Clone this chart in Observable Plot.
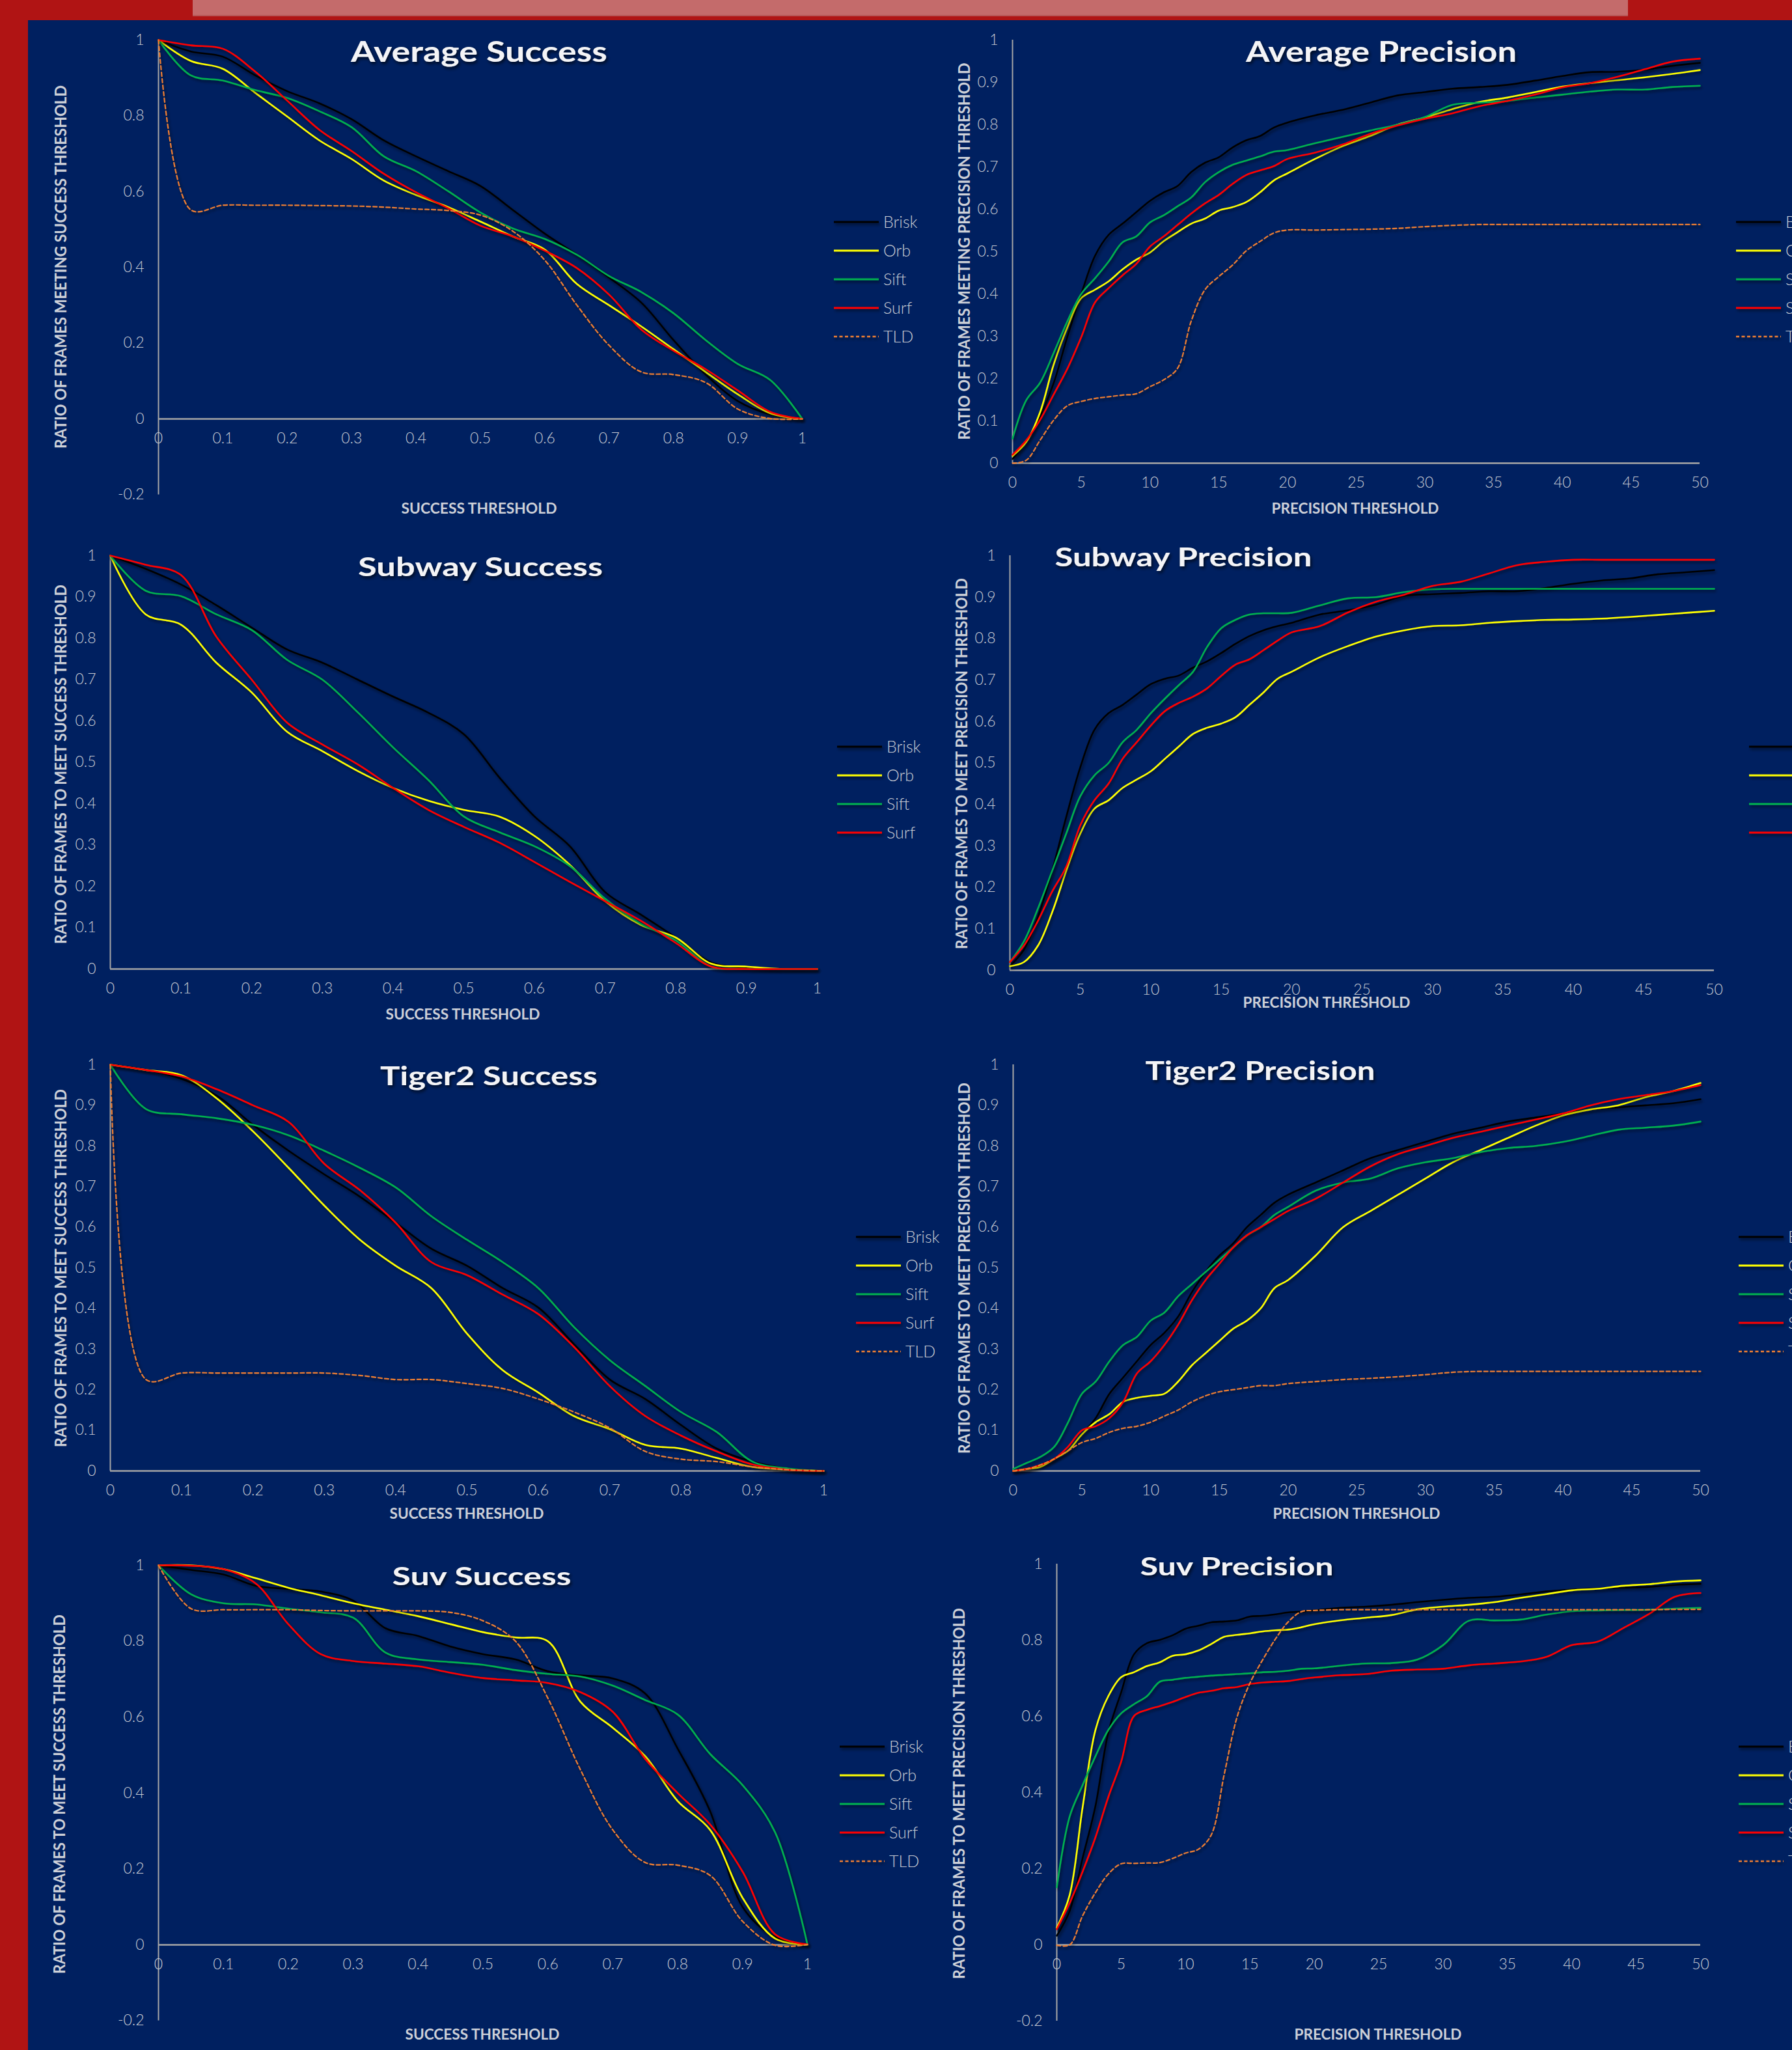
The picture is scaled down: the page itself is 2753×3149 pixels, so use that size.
<!DOCTYPE html>
<html>
<head>
<meta charset="utf-8">
<script src="https://cdn.jsdelivr.net/npm/d3@7"></script>
<script src="https://cdn.jsdelivr.net/npm/@observablehq/plot@0.6"></script>
<style>
html, body { margin: 0; padding: 0; background: #002060; }
#page { position: relative; width: 2753px; height: 3149px; overflow: hidden; background: #002060; }
.deco { position: absolute; }
#overlay { position: absolute; left: 0; top: 0; pointer-events: none; }
</style>
</head>
<body>
<div id="page">
  <div class="deco" style="left:0;top:0;width:2753px;height:31px;background:#B01414;"></div>
  <div class="deco" style="left:0;top:0;width:43px;height:3149px;background:#B01414;"></div>
  <div class="deco" style="left:296px;top:0;width:2205px;height:23px;background:#C46B6B;border-bottom:2px solid #B75656;"></div>
</div>
<script>
// ---------- data ----------
const successX = [0,0.05,0.1,0.15,0.2,0.25,0.3,0.35,0.4,0.45,0.5,0.55,0.6,0.65,0.7,0.75,0.8,0.85,0.9,0.95,1];
const precisionX = [0,1,2,3,4,5,6,7,8,9,10,11,12,13,14,15,16,17,18,19,20,22,24,26,28,30,32,34,36,38,40,42,44,46,48,50];
const successTicksX = [0,0.1,0.2,0.3,0.4,0.5,0.6,0.7,0.8,0.9,1];
const precisionTicksX = [0,5,10,15,20,25,30,35,40,45,50];
const ticksYTenths = [0,0.1,0.2,0.3,0.4,0.5,0.6,0.7,0.8,0.9,1];
const ticksYFifths = [-0.2,0,0.2,0.4,0.6,0.8,1];
const trackerNames = ["Brisk","Orb","Sift","Surf","TLD"];

// Average
const avgSuccessBrisk = [1,0.97,0.956,0.907,0.865,0.833,0.791,0.735,0.693,0.654,0.615,0.552,0.489,0.433,0.373,0.307,0.208,0.117,0.047,0.012,0];
const avgSuccessOrb   = [1,0.945,0.924,0.861,0.798,0.735,0.686,0.629,0.591,0.559,0.521,0.482,0.447,0.356,0.3,0.244,0.184,0.124,0.065,0.015,0];
const avgSuccessSift  = [1,0.907,0.893,0.868,0.847,0.812,0.77,0.693,0.654,0.601,0.545,0.503,0.475,0.433,0.377,0.335,0.279,0.208,0.145,0.103,0];
const avgSuccessSurf  = [1,0.986,0.977,0.917,0.84,0.763,0.707,0.647,0.598,0.556,0.51,0.482,0.444,0.398,0.328,0.236,0.18,0.131,0.075,0.019,0];
const avgSuccessTLD   = [1,0.552,0.564,0.564,0.564,0.563,0.562,0.559,0.554,0.55,0.538,0.496,0.419,0.3,0.194,0.124,0.117,0.096,0.026,0.001,0];

const avgPrecBrisk = [0.01,0.05,0.11,0.19,0.3,0.4,0.49,0.54,0.566,0.593,0.62,0.64,0.655,0.688,0.71,0.723,0.746,0.763,0.773,0.793,0.805,0.822,0.835,0.852,0.869,0.877,0.885,0.889,0.894,0.904,0.915,0.924,0.925,0.93,0.939,0.946];
const avgPrecOrb   = [0.017,0.05,0.12,0.234,0.322,0.39,0.41,0.43,0.458,0.481,0.498,0.525,0.546,0.566,0.578,0.597,0.605,0.617,0.64,0.668,0.685,0.719,0.749,0.773,0.8,0.817,0.837,0.854,0.864,0.877,0.89,0.898,0.905,0.912,0.92,0.929];
const avgPrecSift  = [0.058,0.149,0.19,0.261,0.336,0.4,0.437,0.477,0.522,0.536,0.569,0.586,0.607,0.628,0.664,0.688,0.705,0.715,0.725,0.736,0.74,0.756,0.771,0.786,0.8,0.818,0.847,0.852,0.856,0.864,0.871,0.878,0.883,0.883,0.889,0.892];
const avgPrecSurf  = [0.02,0.054,0.102,0.163,0.224,0.298,0.38,0.414,0.444,0.471,0.512,0.536,0.563,0.59,0.614,0.634,0.66,0.681,0.692,0.702,0.719,0.734,0.753,0.778,0.798,0.814,0.827,0.844,0.856,0.871,0.888,0.898,0.913,0.931,0.949,0.956];
const avgPrecTLD   = [0,0.007,0.054,0.102,0.136,0.146,0.153,0.157,0.161,0.164,0.181,0.197,0.224,0.336,0.41,0.441,0.468,0.502,0.524,0.544,0.551,0.551,0.552,0.553,0.555,0.559,0.562,0.564,0.564,0.564,0.564,0.564,0.564,0.564,0.564,0.564];

// Subway
const subSuccessBrisk = [1,0.968,0.93,0.88,0.826,0.773,0.741,0.7,0.659,0.62,0.568,0.464,0.369,0.297,0.186,0.132,0.076,0.016,0.003,0,0];
const subSuccessOrb   = [1,0.858,0.833,0.741,0.669,0.574,0.527,0.479,0.438,0.407,0.385,0.369,0.322,0.252,0.164,0.107,0.076,0.013,0.006,0,0];
const subSuccessSift  = [1,0.915,0.902,0.858,0.82,0.748,0.7,0.621,0.536,0.457,0.369,0.331,0.297,0.249,0.17,0.11,0.069,0.006,0,0,0];
const subSuccessSurf  = [1,0.978,0.953,0.804,0.7,0.596,0.543,0.495,0.438,0.385,0.344,0.306,0.259,0.211,0.164,0.117,0.063,0.006,0,0,0];

const subPrecBrisk = [0.01,0.05,0.13,0.24,0.37,0.49,0.58,0.62,0.64,0.665,0.69,0.703,0.711,0.73,0.745,0.765,0.787,0.806,0.82,0.83,0.838,0.858,0.868,0.882,0.903,0.907,0.91,0.914,0.914,0.922,0.932,0.94,0.945,0.955,0.96,0.965];
const subPrecOrb   = [0.01,0.02,0.06,0.14,0.24,0.33,0.39,0.41,0.44,0.46,0.48,0.51,0.54,0.57,0.585,0.595,0.61,0.64,0.67,0.703,0.72,0.755,0.782,0.805,0.82,0.83,0.832,0.838,0.842,0.845,0.846,0.848,0.852,0.857,0.862,0.867];
const subPrecSift  = [0.02,0.07,0.15,0.24,0.33,0.42,0.47,0.5,0.55,0.58,0.62,0.655,0.688,0.72,0.78,0.825,0.845,0.858,0.861,0.861,0.862,0.88,0.897,0.9,0.912,0.919,0.92,0.92,0.92,0.92,0.92,0.92,0.92,0.92,0.92,0.92];
const subPrecSurf  = [0.02,0.06,0.12,0.19,0.25,0.35,0.41,0.45,0.51,0.55,0.59,0.625,0.645,0.66,0.68,0.71,0.737,0.75,0.772,0.795,0.815,0.83,0.863,0.889,0.906,0.927,0.937,0.957,0.977,0.985,0.99,0.99,0.99,0.99,0.99,0.99];

// Tiger2
const tigSuccessBrisk = [1,0.987,0.965,0.923,0.852,0.788,0.73,0.675,0.611,0.547,0.505,0.45,0.402,0.312,0.225,0.177,0.113,0.055,0.023,0.006,0];
const tigSuccessOrb   = [1,0.987,0.974,0.916,0.836,0.746,0.653,0.569,0.505,0.45,0.338,0.248,0.193,0.135,0.103,0.064,0.055,0.032,0.01,0.003,0];
const tigSuccessSift  = [1,0.891,0.878,0.868,0.852,0.826,0.788,0.746,0.698,0.627,0.569,0.514,0.45,0.354,0.273,0.209,0.145,0.096,0.023,0.006,0];
const tigSuccessSurf  = [1,0.987,0.971,0.939,0.9,0.859,0.756,0.691,0.611,0.514,0.482,0.434,0.386,0.305,0.209,0.135,0.087,0.048,0.016,0.003,0];
const tigSuccessTLD   = [1,0.225,0.241,0.241,0.241,0.241,0.241,0.235,0.225,0.225,0.215,0.203,0.177,0.145,0.106,0.048,0.029,0.023,0.01,0.003,0];

const tigPrecBrisk = [0,0.005,0.015,0.03,0.05,0.09,0.13,0.19,0.23,0.27,0.31,0.34,0.38,0.44,0.49,0.53,0.56,0.6,0.63,0.66,0.68,0.71,0.74,0.77,0.79,0.81,0.83,0.845,0.86,0.87,0.88,0.89,0.895,0.9,0.905,0.915];
const tigPrecOrb   = [0,0.005,0.01,0.03,0.05,0.09,0.12,0.14,0.17,0.18,0.185,0.19,0.22,0.26,0.29,0.32,0.35,0.37,0.4,0.45,0.47,0.53,0.6,0.64,0.68,0.72,0.76,0.79,0.82,0.85,0.875,0.89,0.9,0.92,0.935,0.955];
const tigPrecSift  = [0.005,0.02,0.035,0.06,0.12,0.19,0.22,0.27,0.31,0.33,0.37,0.39,0.43,0.46,0.49,0.52,0.55,0.58,0.6,0.63,0.65,0.69,0.71,0.72,0.745,0.76,0.77,0.785,0.795,0.8,0.81,0.825,0.84,0.845,0.85,0.86];
const tigPrecSurf  = [0,0.005,0.015,0.03,0.06,0.1,0.11,0.13,0.17,0.24,0.27,0.31,0.36,0.42,0.47,0.51,0.55,0.58,0.6,0.62,0.64,0.67,0.71,0.75,0.78,0.8,0.82,0.835,0.85,0.865,0.88,0.9,0.915,0.925,0.935,0.95];
const tigPrecTLD   = [0,0.005,0.015,0.03,0.05,0.07,0.08,0.095,0.105,0.11,0.12,0.135,0.15,0.17,0.185,0.195,0.2,0.205,0.21,0.21,0.215,0.22,0.225,0.228,0.232,0.237,0.243,0.245,0.245,0.245,0.245,0.245,0.245,0.245,0.245,0.245];

// Suv
const suvSuccessBrisk = [1,0.988,0.976,0.946,0.938,0.931,0.907,0.834,0.814,0.786,0.766,0.752,0.721,0.71,0.702,0.662,0.517,0.352,0.1,0.021,0.001];
const suvSuccessOrb   = [1,1,0.99,0.966,0.941,0.921,0.9,0.883,0.866,0.845,0.824,0.81,0.8,0.641,0.572,0.497,0.379,0.303,0.124,0.017,0];
const suvSuccessSift  = [1,0.924,0.9,0.897,0.886,0.876,0.862,0.77,0.752,0.745,0.738,0.724,0.714,0.707,0.683,0.645,0.607,0.503,0.421,0.297,0];
const suvSuccessSurf  = [1,0.999,0.99,0.952,0.845,0.766,0.748,0.741,0.734,0.717,0.703,0.697,0.69,0.666,0.614,0.49,0.4,0.317,0.193,0.028,0.001];
const suvSuccessTLD   = [1,0.886,0.883,0.883,0.883,0.881,0.88,0.88,0.88,0.876,0.854,0.8,0.65,0.462,0.303,0.217,0.21,0.183,0.062,-0.001,0.001];

const suvPrecBrisk = [0.024,0.089,0.227,0.364,0.557,0.663,0.763,0.792,0.801,0.813,0.83,0.838,0.847,0.849,0.852,0.862,0.864,0.868,0.873,0.875,0.878,0.885,0.888,0.893,0.9,0.906,0.911,0.914,0.92,0.928,0.933,0.936,0.938,0.94,0.945,0.948];
const suvPrecOrb   = [0.045,0.131,0.36,0.564,0.653,0.703,0.716,0.732,0.742,0.759,0.763,0.773,0.79,0.809,0.814,0.818,0.823,0.826,0.828,0.834,0.842,0.852,0.859,0.866,0.881,0.888,0.893,0.9,0.911,0.921,0.931,0.935,0.943,0.947,0.954,0.957];
const suvPrecSift  = [0.151,0.337,0.419,0.495,0.564,0.608,0.632,0.653,0.691,0.696,0.701,0.704,0.707,0.709,0.711,0.713,0.716,0.717,0.72,0.725,0.726,0.733,0.739,0.74,0.749,0.787,0.851,0.852,0.854,0.867,0.876,0.878,0.879,0.88,0.883,0.885];
const suvPrecSurf  = [0.041,0.11,0.192,0.282,0.388,0.481,0.601,0.617,0.627,0.638,0.651,0.662,0.667,0.674,0.677,0.685,0.689,0.691,0.693,0.698,0.702,0.708,0.711,0.72,0.723,0.725,0.734,0.739,0.744,0.756,0.787,0.796,0.832,0.869,0.914,0.924];
const suvPrecTLD   = [-0.001,0,0.076,0.137,0.186,0.213,0.214,0.215,0.216,0.227,0.241,0.251,0.289,0.447,0.598,0.687,0.749,0.804,0.849,0.875,0.878,0.88,0.88,0.88,0.88,0.88,0.88,0.88,0.88,0.88,0.88,0.88,0.88,0.88,0.881,0.881];

// ---------- styles ----------
const COLORS = {Brisk: "#000000", Orb: "#FFFF00", Sift: "#00B050", Surf: "#FF0000", TLD: "#ED7D31"};
const AXIS = "#A6A6A6";
const LABEL = "#C9CCD4";
const FONT = "Lato, 'Open Sans', sans-serif";

const S = (names, arrays) => names.map((n, i) => ({name: n, values: arrays[i]}));

const panels = [
  {kind: "success", title: "Average Success", series: S(trackerNames, [avgSuccessBrisk, avgSuccessOrb, avgSuccessSift, avgSuccessSurf, avgSuccessTLD]),
   yTicks: ticksYFifths, yMin: -0.2, yTitle: "RATIO OF FRAMES MEETING SUCCESS THRESHOLD", xTitle: "SUCCESS THRESHOLD",
   g: {x0: 243, x1: 1232, yTop: 61, yZero: 643, t: [736, 95, 394, 43], xt: [736, 789, 239], yt: [92, 410, 558], lg: [1281, 341]}},
  {kind: "precision", title: "Average Precision", series: S(trackerNames, [avgPrecBrisk, avgPrecOrb, avgPrecSift, avgPrecSurf, avgPrecTLD]),
   yTicks: ticksYTenths, yMin: 0, yTitle: "RATIO OF FRAMES MEETING PRECISION THRESHOLD", xTitle: "PRECISION THRESHOLD",
   g: {x0: 1555, x1: 2611, yTop: 61, yZero: 711, t: [2122, 95, 416, 43], xt: [2082, 789, 257], yt: [1480, 386, 579], lg: [2667, 341]}},
  {kind: "success", title: "Subway Success", series: S(trackerNames.slice(0, 4), [subSuccessBrisk, subSuccessOrb, subSuccessSift, subSuccessSurf]),
   yTicks: ticksYTenths, yMin: 0, yTitle: "RATIO OF FRAMES TO MEET SUCCESS THRESHOLD", xTitle: "SUCCESS THRESHOLD",
   g: {x0: 169, x1: 1255, yTop: 853, yZero: 1488, t: [738, 885, 376, 40], xt: [711, 1566, 237], yt: [92, 1174, 552], lg: [1286, 1147]}},
  {kind: "precision", title: "Subway Precision", series: S(trackerNames.slice(0, 4), [subPrecBrisk, subPrecOrb, subPrecSift, subPrecSurf]),
   yTicks: ticksYTenths, yMin: 0, yTitle: "RATIO OF FRAMES TO MEET PRECISION THRESHOLD", xTitle: "PRECISION THRESHOLD",
   g: {x0: 1551, x1: 2633, yTop: 853, yZero: 1490, t: [1818, 870, 395, 40], xt: [2038, 1548, 257], yt: [1476, 1173, 570], lg: [2687, 1147]}},
  {kind: "success", title: "Tiger2 Success", series: S(trackerNames, [tigSuccessBrisk, tigSuccessOrb, tigSuccessSift, tigSuccessSurf, tigSuccessTLD]),
   yTicks: ticksYTenths, yMin: 0, yTitle: "RATIO OF FRAMES TO MEET SUCCESS THRESHOLD", xTitle: "SUCCESS THRESHOLD",
   g: {x0: 169, x1: 1265, yTop: 1635, yZero: 2259, t: [751, 1667, 334, 40], xt: [717, 2333, 237], yt: [92, 1948, 550], lg: [1315, 1900]}},
  {kind: "precision", title: "Tiger2 Precision", series: S(trackerNames, [tigPrecBrisk, tigPrecOrb, tigPrecSift, tigPrecSurf, tigPrecTLD]),
   yTicks: ticksYTenths, yMin: 0, yTitle: "RATIO OF FRAMES TO MEET PRECISION THRESHOLD", xTitle: "PRECISION THRESHOLD",
   g: {x0: 1556, x1: 2612, yTop: 1635, yZero: 2259, t: [1936, 1659, 353, 40], xt: [2084, 2333, 257], yt: [1480, 1948, 570], lg: [2671, 1900]}},
  {kind: "success", title: "Suv Success", series: S(trackerNames, [suvSuccessBrisk, suvSuccessOrb, suvSuccessSift, suvSuccessSurf, suvSuccessTLD]),
   yTicks: ticksYFifths, yMin: -0.2, yTitle: "RATIO OF FRAMES TO MEET SUCCESS THRESHOLD", xTitle: "SUCCESS THRESHOLD",
   g: {x0: 243, x1: 1240, yTop: 2404, yZero: 2987, t: [740, 2435, 275, 39], xt: [741, 3133, 237], yt: [90, 2756, 552], lg: [1290, 2683]}},
  {kind: "precision", title: "Suv Precision", series: S(trackerNames, [suvPrecBrisk, suvPrecOrb, suvPrecSift, suvPrecSurf, suvPrecTLD]),
   yTicks: ticksYFifths, yMin: -0.2, yTitle: "RATIO OF FRAMES TO MEET PRECISION THRESHOLD", xTitle: "PRECISION THRESHOLD",
   g: {x0: 1623, x1: 2612, yTop: 2402, yZero: 2987, t: [1900, 2420, 297, 39], xt: [2117, 3133, 257], yt: [1472, 2755, 570], lg: [2671, 2683]}}
];

const fmt = d => String(Math.round(d * 10) / 10);
const page = document.getElementById("page");

function drawPanel(p) {
  const g = p.g;
  const mL = 110, mR = 30, mT = 20, mB = 60;
  const unit = g.yZero - g.yTop;
  const yBottom = g.yZero - p.yMin * unit;
  const width = (g.x1 - g.x0) + mL + mR;
  const height = (yBottom - g.yTop) + mT + mB;
  const xMax = p.kind === "success" ? 1 : 50;
  const xs = p.kind === "success" ? successX : precisionX;
  const xTicks = p.kind === "success" ? successTicksX : precisionTicksX;
  const tickStyle = {fill: LABEL, fontSize: 23, fontFamily: FONT, fontWeight: 300};
  const marks = [
    Plot.ruleX([{x: 0, y1: p.yMin, y2: 1}], {x: "x", y1: "y1", y2: "y2", stroke: AXIS, strokeWidth: 2}),
    Plot.ruleY([{y: 0, x1: 0, x2: xMax}], {y: "y", x1: "x1", x2: "x2", stroke: AXIS, strokeWidth: 2.5}),
    Plot.text(p.yTicks, {x: () => 0, y: d => d, text: fmt, dx: -22, textAnchor: "end", ...tickStyle}),
    Plot.text(xTicks, {x: d => d, y: () => 0, text: fmt, dy: 30, ...tickStyle})
  ];
  p.series.forEach(s => {
    const data = xs.map((x, i) => ({x, y: s.values[i]}));
    const tld = s.name === "TLD";
    marks.push(Plot.line(data, {
      x: "x", y: "y", stroke: COLORS[s.name], strokeWidth: tld ? 2.2 : 2.6,
      strokeDasharray: tld ? "6 4" : undefined, curve: "catmull-rom"
    }));
  });
  const svg = Plot.plot({
    width, height, marginLeft: mL, marginRight: mR, marginTop: mT, marginBottom: mB,
    x: {domain: [0, xMax], axis: null},
    y: {domain: [p.yMin, 1], axis: null},
    style: {background: "transparent", overflow: "visible", maxWidth: "none"},
    marks
  });
  svg.style.position = "absolute";
  svg.style.left = (g.x0 - mL) + "px";
  svg.style.top = (g.yTop - mT) + "px";
  svg.querySelectorAll('g[aria-label="line"]').forEach(el => el.setAttribute("filter", "url(#lineShadow)"));
  page.appendChild(svg);
}

panels.forEach(drawPanel);

// ---------- overlay: titles, axis titles, legends ----------
const ov = d3.select(page).append("svg").attr("id", "overlay").attr("width", 2753).attr("height", 3149);
const defs = ov.append("defs");
defs.append("filter").attr("id", "lineShadow").attr("filterUnits", "userSpaceOnUse")
  .attr("x", -200).attr("y", -200).attr("width", 3400).attr("height", 3800)
  .append("feDropShadow").attr("dx", 2).attr("dy", 3).attr("stdDeviation", 2).attr("flood-color", "#000010").attr("flood-opacity", 0.55);
defs.append("filter").attr("id", "titleShadow").attr("x", "-10%").attr("y", "-30%").attr("width", "120%").attr("height", "160%")
  .append("feDropShadow").attr("dx", 2).attr("dy", 3).attr("stdDeviation", 2.5).attr("flood-color", "#000000").attr("flood-opacity", 0.7);

panels.forEach(p => {
  const g = p.g;
  // title
  ov.append("text").attr("x", g.t[0]).attr("y", g.t[1]).attr("text-anchor", "middle")
    .attr("font-family", FONT).attr("font-weight", 700).attr("font-size", g.t[3])
    .attr("fill", "#F4F4F6").attr("filter", "url(#titleShadow)")
    .attr("textLength", g.t[2]).attr("lengthAdjust", "spacingAndGlyphs").text(p.title);
  // x axis title
  ov.append("text").attr("x", g.xt[0]).attr("y", g.xt[1]).attr("text-anchor", "middle")
    .attr("font-family", FONT).attr("font-weight", 700).attr("font-size", 23).attr("fill", "#CDD0D8")
    .attr("textLength", g.xt[2]).attr("lengthAdjust", "spacingAndGlyphs").text(p.xTitle);
  // y axis title
  ov.append("text").attr("transform", `translate(${g.yt[0]},${g.yt[1]}) rotate(-90)`)
    .attr("text-anchor", "middle").attr("dominant-baseline", "central")
    .attr("font-family", FONT).attr("font-weight", 700).attr("font-size", 24).attr("fill", "#CDD0D8")
    .attr("textLength", g.yt[2]).attr("lengthAdjust", "spacingAndGlyphs").text(p.yTitle);
  // legend
  p.series.forEach((s, i) => {
    const y = g.lg[1] + i * 44;
    ov.append("line").attr("x1", g.lg[0]).attr("x2", g.lg[0] + 69).attr("y1", y).attr("y2", y)
      .attr("stroke", COLORS[s.name]).attr("stroke-width", s.name === "TLD" ? 2.4 : 2.8)
      .attr("stroke-dasharray", s.name === "TLD" ? "5 3.5" : null).attr("filter", "url(#lineShadow)");
    ov.append("text").attr("x", g.lg[0] + 76).attr("y", y + 9)
      .attr("font-family", FONT).attr("font-weight", 300).attr("font-size", 25).attr("fill", LABEL)
      .text(s.name);
  });
});
</script>
</body>
</html>
